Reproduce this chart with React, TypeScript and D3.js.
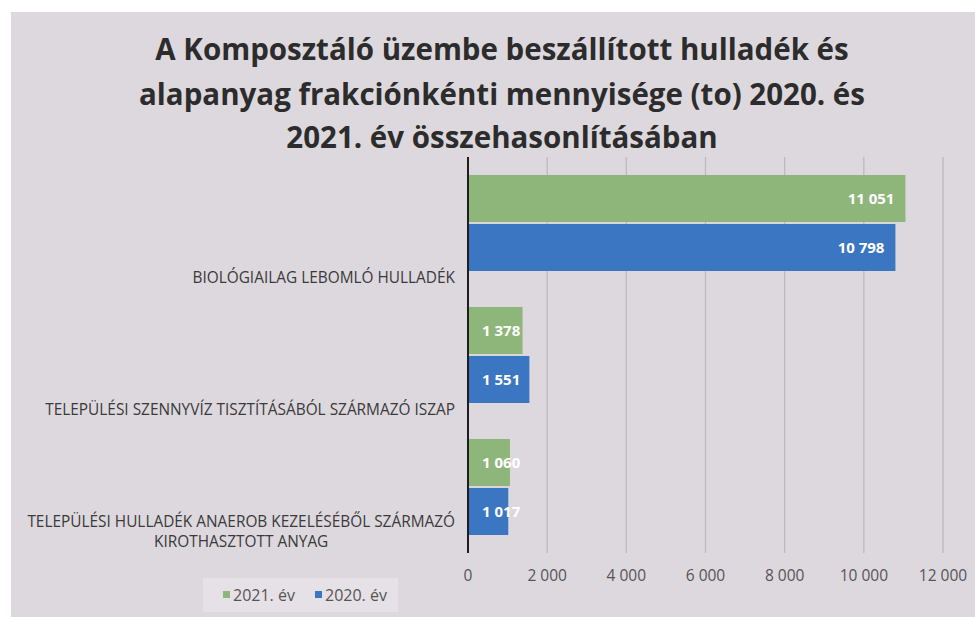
import React, { useEffect, useRef } from "react";
import * as d3 from "d3";

const titleLines = [
  "A Komposztáló üzembe beszállított hulladék és",
  "alapanyag frakciónkénti mennyisége (to) 2020. és",
  "2021. év összehasonlításában",
];

const categories = [
  "BIOLÓGIAILAG LEBOMLÓ HULLADÉK",
  "TELEPÜLÉSI SZENNYVÍZ TISZTÍTÁSÁBÓL SZÁRMAZÓ ISZAP",
  "TELEPÜLÉSI HULLADÉK ANAEROB KEZELÉSÉBŐL SZÁRMAZÓ|KIROTHASZTOTT ANYAG",
];

const seriesNames = ["2021. év", "2020. év"];
const values2021 = [11051, 1378, 1060];
const values2020 = [10798, 1551, 1017];
const xTicks = [0, 2000, 4000, 6000, 8000, 10000, 12000];

const W = 975;
const H = 617;
const FONT = "'Open Sans', 'DejaVu Sans', sans-serif";
const COLORS = ["#8fb67a", "#3b76c2"];

export default function App() {
  const ref = useRef<SVGSVGElement | null>(null);

  useEffect(() => {
    const svg = d3.select(ref.current);
    svg.selectAll("*").remove();

    const loc = d3.formatLocale({
      decimal: ",",
      thousands: " ",
      grouping: [3],
      currency: ["", ""],
    });
    const fmt = loc.format(",d");

    // background
    svg.append("rect").attr("x", 0).attr("y", 0).attr("width", W).attr("height", H).attr("fill", "#ffffff");
    svg.append("rect").attr("x", 11).attr("y", 12).attr("width", W - 11).attr("height", H - 12).attr("fill", "#ddd8de");

    // title
    const tg = svg.append("g");
    const titleY = [60, 105, 148];
    titleLines.forEach((t, i) => {
      tg.append("text")
        .attr("x", 502)
        .attr("y", titleY[i])
        .attr("text-anchor", "middle")
        .attr("font-family", FONT)
        .attr("font-weight", 700)
        .attr("font-size", 29.5)
        .attr("fill", "#2c2c2c")
        .text(t);
    });

    const x = d3.scaleLinear().domain([0, 12000]).range([468, 943]);
    const y = d3.scaleBand<string>().domain(categories).range([157, 553]).paddingInner(0).paddingOuter(0);
    const step = y.step();
    const inner = d3.scaleBand<string>().domain(seriesNames).range([18, step - 18]).paddingInner(0.04);

    // gridlines
    svg.append("g")
      .selectAll("line")
      .data(xTicks.slice(1))
      .join("line")
      .attr("x1", (d) => x(d))
      .attr("x2", (d) => x(d))
      .attr("y1", 157)
      .attr("y2", 553)
      .attr("stroke", "#bdb9be")
      .attr("stroke-width", 1.3);

    // bars
    const series = [values2021, values2020];
    const bg = svg.append("g");
    series.forEach((vals, si) => {
      bg.selectAll(`rect.s${si}`)
        .data(vals)
        .join("rect")
        .attr("class", `s${si}`)
        .attr("x", x(0))
        .attr("y", (_, i) => (y(categories[i]) as number) + (inner(seriesNames[si]) as number))
        .attr("width", (d) => x(d) - x(0))
        .attr("height", inner.bandwidth())
        .attr("fill", COLORS[si]);
    });

    // data labels
    series.forEach((vals, si) => {
      bg.selectAll(`text.l${si}`)
        .data(vals)
        .join("text")
        .attr("class", `l${si}`)
        .attr("x", (d) => (d > 3000 ? x(d) - 11 : x(0) + 14))
        .attr("text-anchor", (d) => (d > 3000 ? "end" : "start"))
        .attr("y", (_, i) => (y(categories[i]) as number) + (inner(seriesNames[si]) as number) + inner.bandwidth() / 2)
        .attr("dy", "0.36em")
        .attr("font-family", FONT)
        .attr("font-weight", 700)
        .attr("font-size", 15)
        .attr("fill", "#ffffff")
        .text((d) => fmt(d));
    });

    // axis line
    svg.append("line")
      .attr("x1", x(0))
      .attr("x2", x(0))
      .attr("y1", 157)
      .attr("y2", 553)
      .attr("stroke", "#1e1e1e")
      .attr("stroke-width", 2);

    // x tick labels
    svg.append("g")
      .selectAll("text")
      .data(xTicks)
      .join("text")
      .attr("x", (d) => x(d))
      .attr("y", 581)
      .attr("text-anchor", "middle")
      .attr("font-family", FONT)
      .attr("font-size", 15.5)
      .attr("fill", "#555555")
      .text((d) => fmt(d));

    // category labels
    const cg = svg.append("g");
    categories.forEach((c) => {
      const lines = c.split("|");
      const bottom = (y(c) as number) + step - 6.5;
      const texts = lines.map((ln, li) =>
        cg.append("text")
          .attr("y", bottom - (lines.length - 1 - li) * 20)
          .attr("font-family", FONT)
          .attr("font-size", 15.4)
          .attr("fill", "#3a3a3a")
          .attr("text-anchor", "middle")
          .text(ln)
      );
      const widths = texts.map((t) => (t.node() as SVGTextElement).getComputedTextLength());
      const maxW = Math.max(...widths);
      const right = 455;
      texts.forEach((t) => t.attr("x", right - maxW / 2));
    });

    // legend
    const lg = svg.append("g");
    lg.append("rect").attr("x", 203).attr("y", 578).attr("width", 195).attr("height", 34).attr("fill", "#e5e1e6");
    const legX = [223, 315];
    seriesNames.forEach((s, i) => {
      lg.append("rect").attr("x", legX[i]).attr("y", 591).attr("width", 7).attr("height", 7).attr("fill", COLORS[i]);
      lg.append("text")
        .attr("x", legX[i] + 10)
        .attr("y", 601)
        .attr("font-family", FONT)
        .attr("font-size", 16)
        .attr("fill", "#555555")
        .text(s);
    });
  }, []);

  return (
    <svg
      ref={ref}
      width={W}
      height={H}
      style={{ position: "absolute", left: 0, top: 0, display: "block" }}
    />
  );
}
